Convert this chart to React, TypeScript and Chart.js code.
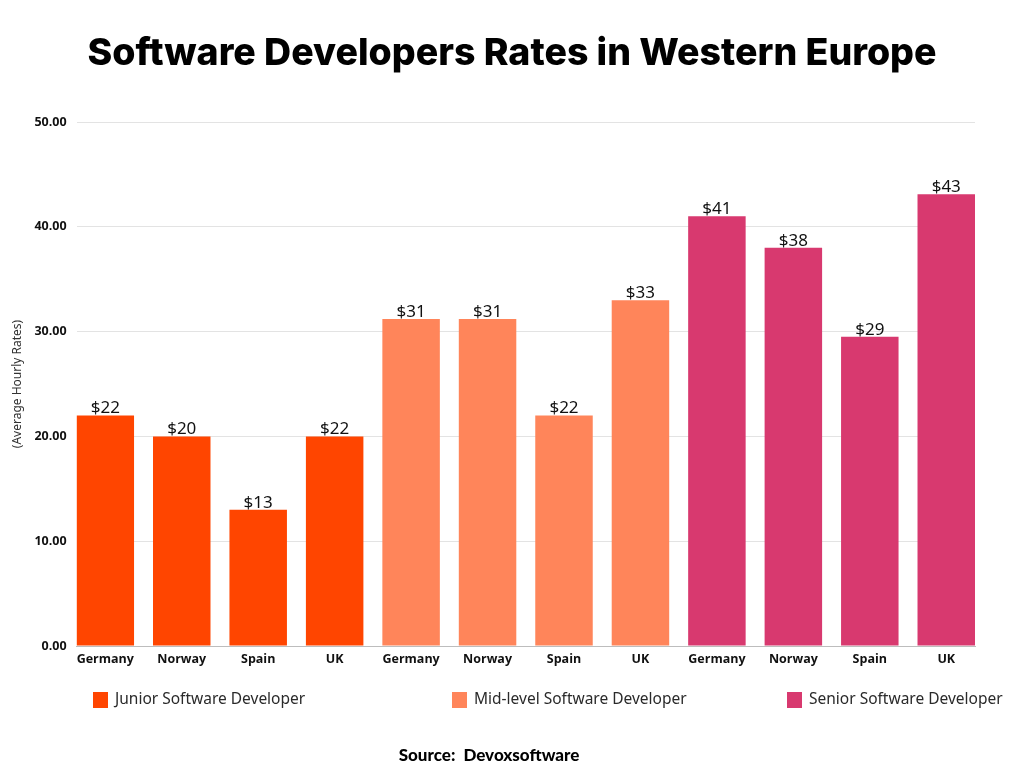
import React, { useEffect, useRef } from "react";
import { Chart, registerables } from "chart.js";

Chart.register(...registerables);

// ---- data ----
const countries = ["Germany", "Norway", "Spain", "UK"];
const categories = [...countries, ...countries, ...countries];
const seriesNames = [
  "Junior Software Developer",
  "Mid-level Software Developer",
  "Senior Software Developer",
];
const juniorRates = [22, 20, 13, 20];
const midRates = [31.2, 31.2, 22, 33];
const seniorRates = [41, 38, 29.5, 43.1];
const juniorLabels = ["$22", "$20", "$13", "$22"];
const midLabels = ["$31", "$31", "$22", "$33"];
const seniorLabels = ["$41", "$38", "$29", "$43"];
const yMax = 50;
const yStep = 10;
const titleText = "Software Developers Rates in Western Europe";
const yAxisTitle = "(Average Hourly Rates)";
const sourceText = "Source:  Devoxsoftware";

// ---- style ----
const colors = ["#FF4500", "#FF855A", "#D8396F"];
const legendX = [93, 452, 787];

const seriesValues = [juniorRates, midRates, seniorRates];
const seriesLabels = [juniorLabels, midLabels, seniorLabels];

const labelsPlugin = {
  id: "barValueLabels",
  afterDatasetsDraw(chart: any) {
    const ctx = chart.ctx;
    ctx.save();
    ctx.font = "17px 'Noto Sans'";
    ctx.fillStyle = "#111";
    ctx.textAlign = "center";
    ctx.textBaseline = "alphabetic";
    chart.data.datasets.forEach((ds: any, i: number) => {
      const meta = chart.getDatasetMeta(i);
      meta.data.forEach((el: any, j: number) => {
        ctx.fillText(ds.valueLabels[j], el.x, el.y - 2);
      });
    });
    ctx.restore();
  },
};

const decorPlugin = {
  id: "titleLegendSource",
  afterDraw(chart: any) {
    const ctx = chart.ctx;
    ctx.save();
    // title
    ctx.font = "800 37.5px Inter";
    ctx.fillStyle = "#000";
    ctx.textAlign = "center";
    ctx.textBaseline = "middle";
    ctx.fillText(titleText, 512, 54);
    // legend
    chart.data.datasets.forEach((ds: any, i: number) => {
      const x = legendX[i];
      const y = 700;
      ctx.fillStyle = ds.backgroundColor;
      ctx.fillRect(x, y - 8, 15, 16);
      ctx.fillStyle = "#2a2a2a";
      ctx.font = "15.5px 'Noto Sans'";
      ctx.textAlign = "left";
      ctx.textBaseline = "middle";
      ctx.fillText(ds.label, x + 22, y);
    });
    // source
    ctx.font = "900 17px Lato";
    ctx.fillStyle = "#000";
    ctx.textAlign = "center";
    ctx.textBaseline = "middle";
    ctx.fillText(sourceText, 489, 756);
    ctx.restore();
  },
};

export default function App() {
  const ref = useRef<HTMLCanvasElement | null>(null);

  useEffect(() => {
    if (!ref.current) return;
    const datasets = seriesValues.map((vals, s) => ({
      label: seriesNames[s],
      data: vals.map((v, k) => ({ x: s * countries.length + k, y: v })),
      valueLabels: seriesLabels[s],
      backgroundColor: colors[s],
      borderWidth: 0,
      grouped: false,
      barPercentage: 0.752,
      categoryPercentage: 1,
    }));
    const chart = new Chart(ref.current, {
      type: "bar",
      data: { datasets } as any,
      options: {
        responsive: false,
        animation: false,
        devicePixelRatio: 1,
        layout: { padding: { left: 6, right: 49, top: 122, bottom: 95 } },
        scales: {
          x: {
            type: "linear",
            bounds: "data",
            offset: false,
            min: -0.376,
            max: categories.length - 1 + 0.376,
            afterBuildTicks: (scale: any) => {
              scale.ticks = categories.map((_, i) => ({ value: i }));
            },
            grid: { display: false, drawTicks: false, offset: false },
            border: { display: true, color: "#bdbdbd", width: 1 },
            ticks: {
              autoSkip: false,
              maxRotation: 0,
              padding: 6,
              color: "#111",
              font: { family: "'Open Sans'", size: 12.5, weight: "bold" },
              callback: (v: any) => categories[v] ?? "",
            },
          },
          y: {
            min: 0,
            max: yMax,
            grid: { color: "#e3e3e3", drawTicks: false },
            border: { display: false },
            ticks: {
              stepSize: yStep,
              padding: 10,
              color: "#111",
              font: { family: "'Open Sans'", size: 12.5, weight: "bold" },
              callback: (v: any) => Number(v).toFixed(2),
            },
            title: {
              display: true,
              text: yAxisTitle,
              color: "#333",
              font: { family: "'Noto Sans'", size: 12 },
              padding: { top: 4, bottom: 0 },
            },
          },
        },
        plugins: {
          legend: { display: false },
          tooltip: { enabled: false },
          title: { display: false },
        },
      } as any,
      plugins: [labelsPlugin, decorPlugin],
    });
    return () => chart.destroy();
  }, []);

  return (
    <div style={{ position: "absolute", left: 0, top: 0, width: 1024, height: 768, background: "#fff" }}>
      <canvas ref={ref} width={1024} height={768} />
    </div>
  );
}
